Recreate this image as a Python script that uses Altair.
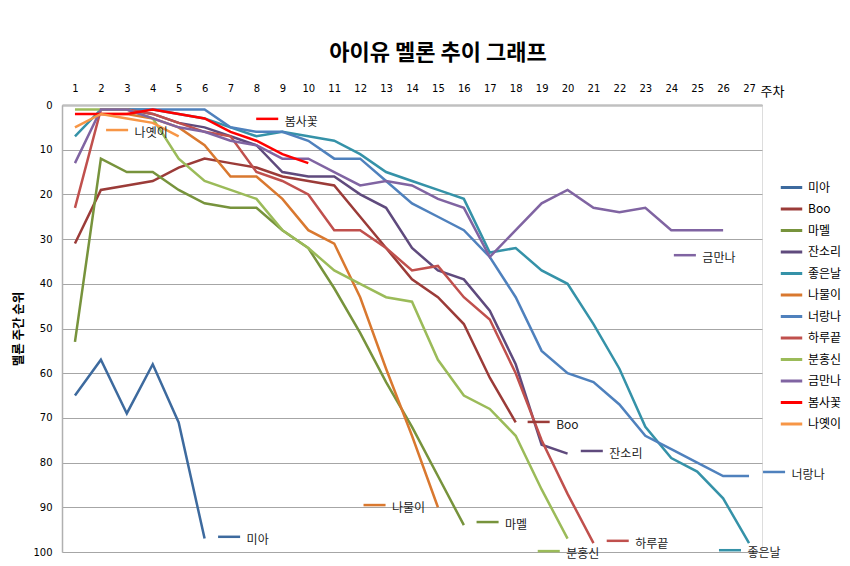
import altair as alt
import pandas as pd

songs = ["미아", "Boo", "마멜", "잔소리", "좋은날", "나물이", "너랑나", "하루끝", "분홍신", "금만나", "봄사꽃", "나옛이"]
colors = ["#3D6A9E", "#9B3B38", "#77933C", "#5F4A7D", "#3592A8", "#D9782F",
          "#4F81BD", "#C0504D", "#9BBB59", "#8064A2", "#FF0000", "#F79646"]
start_week = [1, 1, 1, 2, 1, 2, 2, 1, 1, 1, 1, 1]

mia = [65, 57, 69, 58, 71, 97]
boo = [31, 19, 18, 17, 14, 12, 13, 14, 16, 17, 18, 25, 32, 39, 43, 49, 61, 71]
mamel = [53, 12, 15, 15, 19, 22, 23, 23, 28, 32, 41, 51, 62, 72, 83, 94]
jansori = [1, 1, 2, 4, 5, 7, 9, 15, 16, 16, 20, 23, 32, 37, 39, 46, 58, 76, 78]
joeunnal = [7, 1, 1, 1, 2, 3, 5, 7, 6, 7, 8, 11, 15, 17, 19, 21, 33, 32, 37, 40, 49, 59, 72, 79, 82, 88, 98]
namuri = [2, 2, 3, 5, 9, 16, 16, 21, 28, 31, 43, 59, 74, 90]
neorangna = [1, 1, 1, 1, 1, 5, 6, 6, 8, 12, 12, 17, 22, 25, 28, 34, 43, 55, 60, 62, 67, 74, 77, 80, 83, 83]
haruggeut = [23, 1, 1, 2, 4, 6, 7, 15, 17, 20, 28, 28, 32, 37, 36, 43, 48, 60, 75, 87, 98]
bunhongsin = [1, 1, 1, 3, 12, 17, 19, 21, 28, 32, 37, 40, 43, 44, 57, 65, 68, 74, 86, 97]
geummanna = [13, 1, 1, 3, 5, 6, 8, 9, 12, 12, 15, 18, 17, 18, 21, 23, 34, 28, 22, 19, 23, 24, 23, 28, 28, 28]
bomsakkot = [2, 2, 2, 1, 2, 3, 6, 8, 11, 13]
nayetyi = [5, 2, 3, 4, 7]

series = [mia, boo, mamel, jansori, joeunnal, namuri, neorangna, haruggeut,
          bunhongsin, geummanna, bomsakkot, nayetyi]

week_ticks = list(range(1, 28))
rank_ticks = list(range(0, 101, 10))

# data-label anchors (week, rank) where each series' label key begins
label_week = [6.52, 18.46, 16.49, 20.51, 25.84, 12.13, 27.54, 21.51, 18.85, 24.10, 7.99, 2.20]
label_rank = [96.6, 70.9, 93.3, 77.4, 99.6, 89.5, 82.1, 97.5, 99.8, 33.6, 3.1, 5.6]

rows = []
for s, sw, vals in zip(songs, start_week, series):
    for i, v in enumerate(vals):
        rows.append({"song": s, "week": sw + i, "rank": v})
df = pd.DataFrame(rows)

lab = pd.DataFrame({"song": songs, "kx": label_week, "ky": label_rank})

FONT = "Noto Sans CJK KR"

color_scale = alt.Scale(domain=songs, range=colors)
xs = alt.Scale(domain=[0.5, 27.5], nice=False, zero=False)
ys = alt.Scale(domain=[0, 100], reverse=True, nice=False, zero=False)

ax_x = alt.Axis(orient="top", values=week_ticks, title="주차",
                grid=False, ticks=False, labelPadding=12, labelOverlap=False,
                labelSeparation=0, labelBound=False,
                labelFont="DejaVu Sans", labelFontSize=10, labelColor="#000",
                domainColor="#C0C0C0", domainWidth=2.5,
                titleX=710, titleY=-14, titleAlign="center", titleBaseline="middle",
                titleAngle=0, titleFont=FONT, titleFontSize=13,
                titleFontWeight="normal", titleColor="#000")
ax_y = alt.Axis(values=rank_ticks, title="멜론 주간 순위",
                grid=True, gridColor="#A6A6A6", gridWidth=1,
                ticks=False, labelPadding=10, labelOverlap=False,
                labelFont="DejaVu Sans", labelFontSize=10, labelColor="#000",
                domainColor="#B0B0B0", domainWidth=1.5,
                titleFont=FONT, titleFontSize=12.5, titleFontWeight="bold",
                titleColor="#000", titlePadding=7)

lines = alt.Chart(df).mark_line(strokeWidth=2.5).encode(
    x=alt.X("week:Q", scale=xs, axis=ax_x),
    y=alt.Y("rank:Q", scale=ys, axis=ax_y),
    color=alt.Color("song:N", scale=color_scale,
                    legend=alt.Legend(title=None, orient="none", legendX=717, legendY=70,
                                      symbolType="stroke", symbolSize=460,
                                      symbolStrokeWidth=3, labelFont=FONT,
                                      labelFontSize=12, labelColor="#000",
                                      labelOffset=4, rowPadding=2.5)),
    order=alt.Order("week:Q"),
    detail="song:N",
)

keys = alt.Chart(lab).transform_calculate(kx2="datum.kx + 0.85").mark_rule(strokeWidth=2.5).encode(
    x=alt.X("kx:Q", scale=xs, axis=ax_x), x2="kx2:Q",
    y=alt.Y("ky:Q", scale=ys, axis=ax_y),
    color=alt.Color("song:N", scale=color_scale, legend=None),
)

texts = alt.Chart(lab).transform_calculate(tx="datum.kx + 1.1").mark_text(
    align="left", baseline="middle", dy=3, font=FONT, fontSize=12, color="#222"
).encode(x=alt.X("tx:Q", scale=xs, axis=ax_x),
         y=alt.Y("ky:Q", scale=ys, axis=ax_y), text="song:N")

chart = alt.layer(lines, keys, texts).properties(
    width=700, height=447,
    title=alt.TitleParams("아이유 멜론 추이 그래프", font=FONT, fontSize=22,
                          fontWeight="bold", color="#000", anchor="middle",
                          dx=26, offset=18),
    autosize=alt.AutoSizeParams(type="none"),
    padding={"left": 54, "top": 97, "right": 80, "bottom": 13},
).configure_view(stroke=None).configure(background="white")

chart.save("out.html", embed_options={"renderer": "svg", "actions": False})
